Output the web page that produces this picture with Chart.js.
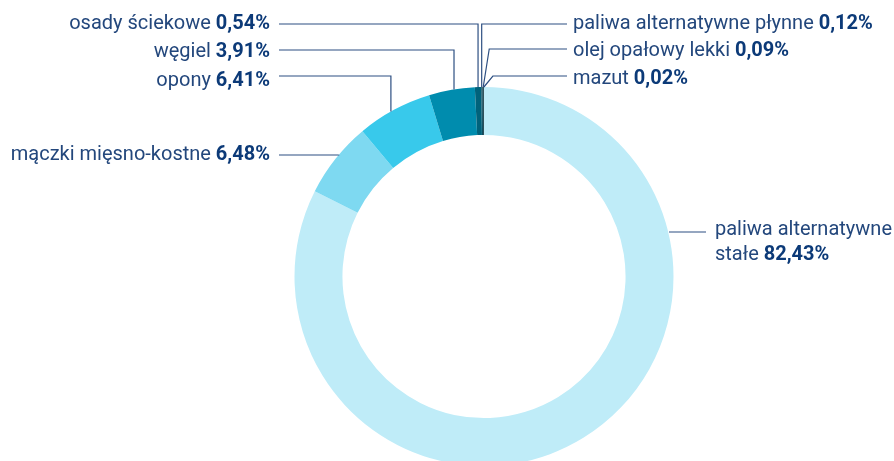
<!DOCTYPE html>
<html>
<head>
<meta charset="utf-8">
<script src="https://cdn.jsdelivr.net/npm/chart.js@4/dist/chart.umd.min.js"></script>
<style>
  html, body { margin: 0; padding: 0; background: #fff; overflow: hidden; }
  #wrap { width: 894px; height: 480px; }
</style>
</head>
<body>
<div id="wrap"><canvas id="fuelChart" width="894" height="480"></canvas></div>
<script>
// Fuel mix shares, clockwise from 12 o'clock
const categories = ['paliwa alternatywne stałe', 'mączki mięsno-kostne', 'opony', 'węgiel',
  'osady ściekowe', 'paliwa alternatywne płynne', 'olej opałowy lekki', 'mazut'];
const shares = [82.43, 6.48, 6.41, 3.91, 0.54, 0.12, 0.09, 0.02];
const sliceColors = ['#bfecf8', '#7ed9f1', '#38c9eb', '#008cae', '#00627b', '#0c4d60', '#0b3340', '#06202a'];

// label placement: side, text centre y, leader y, anchor fraction inside slice, elbow offset
const labelLayout = [
  { side: 'right', ty: [230, 255], ly: 232, frac: 0.5, lines: ['paliwa alternatywne', 'stałe '] },
  { side: 'left', ty: 155, ly: 155, frac: 0.565 },
  { side: 'left', ty: 81, ly: 76, frac: 0.455 },
  { side: 'left', ty: 52, ly: 50, frac: 0.55 },
  { side: 'left', ty: 24, ly: 24, frac: 0.5 },
  { side: 'right', ty: 24, ly: 24, frac: 0.3, elbow: 0 },
  { side: 'right', ty: 51, ly: 49, frac: 0.5, elbow: 6 },
  { side: 'right', ty: 79, ly: 76, frac: 0.5, elbow: 9 }
];

const textColor = '#23477c';
const boldColor = '#0c3a78';
const lineColor = '#2d4f82';
const FONT = 'Roboto, "DejaVu Sans", sans-serif';
const SIZE = '20px ';
const fmt = v => v.toFixed(2).replace('.', ',') + '%';

const calloutPlugin = {
  id: 'callouts',
  afterDraw(chart) {
    const ctx = chart.ctx;
    const arcs = chart.getDatasetMeta(0).data;
    ctx.save();
    ctx.textBaseline = 'middle';
    ctx.strokeStyle = lineColor;
    ctx.lineWidth = 1.2;
    labelLayout.forEach((lab, i) => {
      const arc = arcs[i];
      const a = arc.startAngle + (arc.endAngle - arc.startAngle) * lab.frac;
      const ax = arc.x + Math.cos(a) * arc.outerRadius;
      const ay = arc.y + Math.sin(a) * arc.outerRadius;
      const bold = fmt(shares[i]);
      ctx.beginPath();
      if (lab.side === 'left') {
        ctx.moveTo(279, lab.ly);
        ctx.lineTo(ax, lab.ly);
        ctx.lineTo(ax, ay);
      } else if (lab.lines) {
        ctx.moveTo(706, lab.ly);
        ctx.lineTo(669, lab.ly);
      } else {
        ctx.moveTo(567, lab.ly);
        ctx.lineTo(ax + lab.elbow, lab.ly);
        ctx.lineTo(ax, ay);
      }
      ctx.stroke();

      if (lab.side === 'left') {
        ctx.textAlign = 'right';
        ctx.font = 'bold ' + SIZE + FONT;
        ctx.fillStyle = boldColor;
        ctx.fillText(bold, 270, lab.ty);
        const bw = ctx.measureText(bold).width;
        ctx.font = SIZE + FONT;
        ctx.fillStyle = textColor;
        ctx.fillText(categories[i] + ' ', 270 - bw, lab.ty);
      } else if (lab.lines) {
        ctx.textAlign = 'left';
        ctx.font = SIZE + FONT;
        ctx.fillStyle = textColor;
        ctx.fillText(lab.lines[0], 715, lab.ty[0]);
        ctx.fillText(lab.lines[1], 715, lab.ty[1]);
        const w = ctx.measureText(lab.lines[1]).width;
        ctx.font = 'bold ' + SIZE + FONT;
        ctx.fillStyle = boldColor;
        ctx.fillText(bold, 715 + w, lab.ty[1]);
      } else {
        ctx.textAlign = 'left';
        ctx.font = SIZE + FONT;
        ctx.fillStyle = textColor;
        const txt = categories[i] + ' ';
        ctx.fillText(txt, 573, lab.ty);
        const w = ctx.measureText(txt).width;
        ctx.font = 'bold ' + SIZE + FONT;
        ctx.fillStyle = boldColor;
        ctx.fillText(bold, 573 + w, lab.ty);
      }
    });
    ctx.restore();
  }
};

new Chart(document.getElementById('fuelChart'), {
  type: 'doughnut',
  data: {
    labels: categories,
    datasets: [{
      data: shares,
      backgroundColor: sliceColors,
      borderWidth: 0
    }]
  },
  options: {
    responsive: false,
    devicePixelRatio: 1,
    animation: false,
    cutout: '74.7%',
    layout: { padding: { top: 87, bottom: 14, left: 294.5, right: 220.5 } },
    plugins: { legend: { display: false }, tooltip: { enabled: false } }
  },
  plugins: [calloutPlugin]
});
</script>
</body>
</html>
